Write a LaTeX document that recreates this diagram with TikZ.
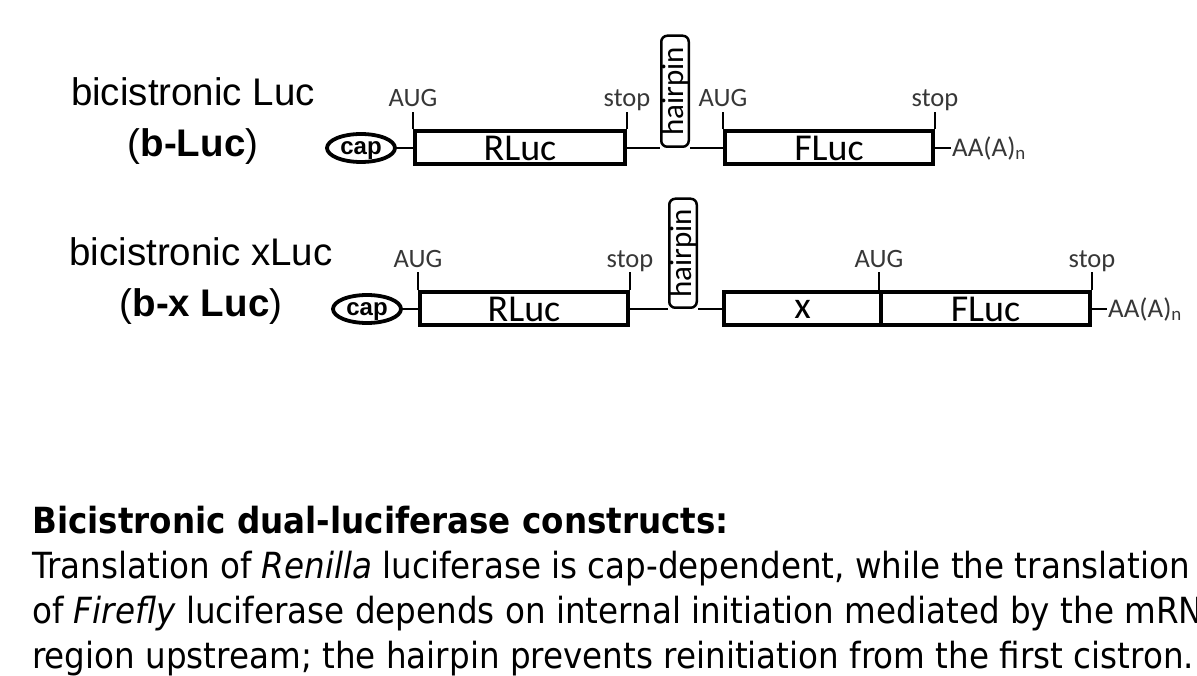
\documentclass[tikz,border=0pt]{standalone}
\usepackage{fontspec}
\setmainfont{Liberation Sans}
\newfontfamily\calfont{Carlito}
\newfontfamily\capfont[FakeStretch=0.905]{DejaVu Sans}
\usetikzlibrary{shapes.geometric, positioning, calc}
\definecolor{sitegray}{RGB}{55, 55, 55}

\tikzset{
  cistron/.style={draw, line width=4pt, minimum height=33pt, inner sep=0pt, font=\calfont\fontsize{38}{38}\selectfont},
  capsite/.style={draw, ellipse, line width=3.8pt, minimum width=68pt, minimum height=28pt, inner sep=0pt, text depth=0pt, font=\bfseries\fontsize{24}{24}\selectfont},
  hairpinbox/.style={draw, rounded corners=6pt, line width=2.5pt, rotate=90, anchor=west, minimum height=27.5pt, inner sep=0pt, font=\calfont\fontsize{31}{31}\selectfont},
  sitelabel/.style={anchor=base, inner sep=0pt, text=sitegray, font=\calfont\fontsize{26.5}{26.5}\selectfont},
  polya/.style={anchor=west, inner sep=1pt, text=sitegray, font=\calfont\fontsize{27}{27}\selectfont},
  rna/.style={line width=2.2pt},
  sitetick/.style={line width=2.8pt},
  constructname/.style={anchor=north, align=center, inner sep=0pt, font=\fontsize{38.5}{51}\selectfont},
  captiontext/.style={anchor=north west, align=left, inner sep=0pt, font=\capfont\fontsize{36}{45}\selectfont},
}

\begin{document}
\begin{tikzpicture}[x=1pt, y=-1pt]
  \useasboundingbox (0,0) rectangle (1197,676);
  \fill[white] (0,0) rectangle (1197,676);

  % bicistronic Luc
  \node[constructname] (name1) at (193,77) {bicistronic Luc\\(\textbf{b-Luc})};
  \node[capsite] (cap1) at (361,148) {cap};
  \node[cistron, minimum width=210pt] (rluc1) at (520,148) {RLuc};
  \node[hairpinbox, minimum width=111pt] (hp1) at (675,148) {hairpin};
  \node[cistron, minimum width=208pt] (fluc1) at (829,148) {FLuc};
  \node[polya] (pa1) at (951,148) {AA(A)\textsubscript{n}};
  \draw[rna] (cap1) -- (rluc1);
  \draw[rna] (rluc1) -- (hp1.north west);
  \draw[rna] (hp1.south west) -- (fluc1);
  \draw[rna] (fluc1) -- (pa1);
  \draw[sitetick] (rluc1.north west) -- ++(0,-17) coordinate (aug1t);
  \node[sitelabel] (aug1) at ([yshift=6pt]aug1t) {AUG};
  \draw[sitetick] (rluc1.north east) -- ++(0,-17) coordinate (stop1t);
  \node[sitelabel] (stop1) at ([yshift=6pt]stop1t) {stop};
  \draw[sitetick] (fluc1.north west) -- ++(0,-17) coordinate (aug1bt);
  \node[sitelabel] (aug1b) at ([yshift=6pt]aug1bt) {AUG};
  \draw[sitetick] (fluc1.north east) -- ++(0,-17) coordinate (stop1bt);
  \node[sitelabel] (stop1b) at ([yshift=6pt]stop1bt) {stop};

  % bicistronic xLuc
  \node[constructname] (name2) at (201,237) {bicistronic xLuc\\(\textbf{b-x Luc})};
  \node[capsite] (cap2) at (367,309) {cap};
  \node[cistron, minimum width=208pt] (rluc2) at (524,309) {RLuc};
  \node[hairpinbox, minimum width=109pt] (hp2) at (683,309) {hairpin};
  \node[cistron, minimum width=157pt] (xorf2) at (802.5,309) {x};
  \node[cistron, minimum width=209pt] (fluc2) at (985.5,309) {FLuc};
  \node[polya] (pa2) at (1107,309) {AA(A)\textsubscript{n}};
  \draw[rna] (cap2) -- (rluc2);
  \draw[rna] (rluc2) -- (hp2.north west);
  \draw[rna] (hp2.south west) -- (xorf2);
  \draw[rna] (fluc2) -- (pa2);
  \draw[sitetick] (rluc2.north west) -- ++(0,-18) coordinate (aug2t);
  \node[sitelabel] (aug2) at ([yshift=4.5pt]aug2t) {AUG};
  \draw[sitetick] (rluc2.north east) -- ++(0,-18) coordinate (stop2t);
  \node[sitelabel] (stop2) at ([yshift=4.5pt]stop2t) {stop};
  \draw[sitetick] (fluc2.north west) -- ++(0,-18) coordinate (aug2bt);
  \node[sitelabel] (aug2b) at ([yshift=4.5pt]aug2bt) {AUG};
  \draw[sitetick] (fluc2.north east) -- ++(0,-18) coordinate (stop2bt);
  \node[sitelabel] (stop2b) at ([yshift=4.5pt]stop2bt) {stop};

  % caption
  \node[captiontext] (caption) at (32,506) {\textbf{Bicistronic dual-luciferase constructs:}\\
    Translation of \textit{Renilla} luciferase is cap-dependent, while the translation\\
    of \textit{Firefly} luciferase depends on internal initiation mediated by the mRNA\\
    region upstream; the hairpin prevents reinitiation from the first cistron.};
\end{tikzpicture}
\end{document}
